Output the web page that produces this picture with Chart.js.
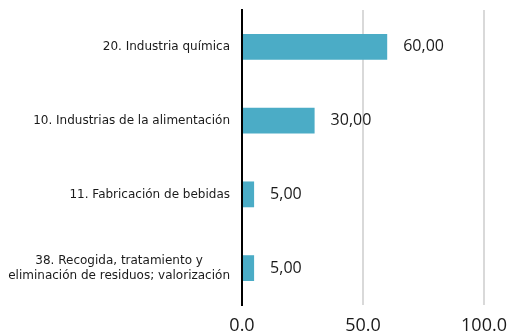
<!DOCTYPE html>
<html>
<head>
<meta charset="utf-8">
<script src="https://cdn.jsdelivr.net/npm/chart.js@4"></script>
<style>
  html, body { margin: 0; padding: 0; background: #fff; }
  #wrap { width: 509px; height: 335px; }
</style>
</head>
<body>
<div id="wrap"><canvas id="sector-chart"></canvas></div>
<script>
var sectors = [
  ['20. Industria química'],
  ['10. Industrias de la alimentación'],
  ['11. Fabricación de bebidas'],
  ['38. Recogida, tratamiento y', 'eliminación de residuos; valorización']
];
var shares = [60, 30, 5, 5];
var xTicks = [0, 50, 100];

var barColor = '#4bacc6';

// category names, each block centred on itself and right-aligned to the axis
var sectorLabels = {
  id: 'sectorLabels',
  afterDraw: function (chart) {
    var ctx = chart.ctx;
    var y = chart.scales.y;
    var right = chart.chartArea.left - 12;
    ctx.save();
    ctx.font = '12px "DejaVu Sans"';
    ctx.fillStyle = '#1a1a1a';
    ctx.textAlign = 'center';
    ctx.textBaseline = 'middle';
    sectors.forEach(function (lines, i) {
      var cy = y.getPixelForValue(i);
      var w = Math.max.apply(null, lines.map(function (l) { return ctx.measureText(l).width; }));
      var cx = right - w / 2;
      var lh = 15;
      lines.forEach(function (l, j) {
        ctx.fillText(l, cx, cy + (j - (lines.length - 1) / 2) * lh);
      });
    });
    ctx.restore();
  }
};

// value labels after each bar
var valueLabels = {
  id: 'valueLabels',
  afterDatasetsDraw: function (chart) {
    var ctx = chart.ctx;
    var meta = chart.getDatasetMeta(0);
    ctx.save();
    ctx.font = '16px "Open Sans"';
    ctx.fillStyle = '#1a1a1a';
    ctx.textAlign = 'left';
    ctx.textBaseline = 'middle';
    meta.data.forEach(function (bar, i) {
      ctx.fillText(shares[i].toFixed(2).replace('.', ','), bar.x + 16, bar.y);
    });
    ctx.restore();
  }
};

new Chart(document.getElementById('sector-chart').getContext('2d'), {
  type: 'bar',
  data: {
    labels: sectors,
    datasets: [{
      data: shares,
      backgroundColor: barColor,
      borderWidth: 0,
      barPercentage: 0.35,
      categoryPercentage: 1
    }]
  },
  options: {
    indexAxis: 'y',
    responsive: true,
    maintainAspectRatio: false,
    animation: false,
    layout: { padding: { top: 10, right: 25, left: 0, bottom: 0 } },
    plugins: { legend: { display: false }, tooltip: { enabled: false } },
    scales: {
      x: {
        min: 0,
        max: 100,
        afterBuildTicks: function (scale) {
          scale.ticks = xTicks.map(function (v) { return { value: v }; });
        },
        afterFit: function (scale) {
          scale.height = 30;
          scale.paddingLeft = 0;
          scale.paddingRight = 0;
        },
        grid: { color: '#d9d9d9', lineWidth: 2, drawTicks: false },
        border: { display: false },
        ticks: {
          padding: 10,
          color: '#1a1a1a',
          font: { family: 'Open Sans', size: 18 },
          callback: function (v) { return Number(v).toFixed(1); }
        }
      },
      y: {
        afterFit: function (scale) { scale.width = 242; },
        grid: { display: false },
        border: { display: true, color: '#000', width: 2 },
        ticks: { display: false }
      }
    }
  },
  plugins: [valueLabels, sectorLabels]
});
</script>
</body>
</html>
